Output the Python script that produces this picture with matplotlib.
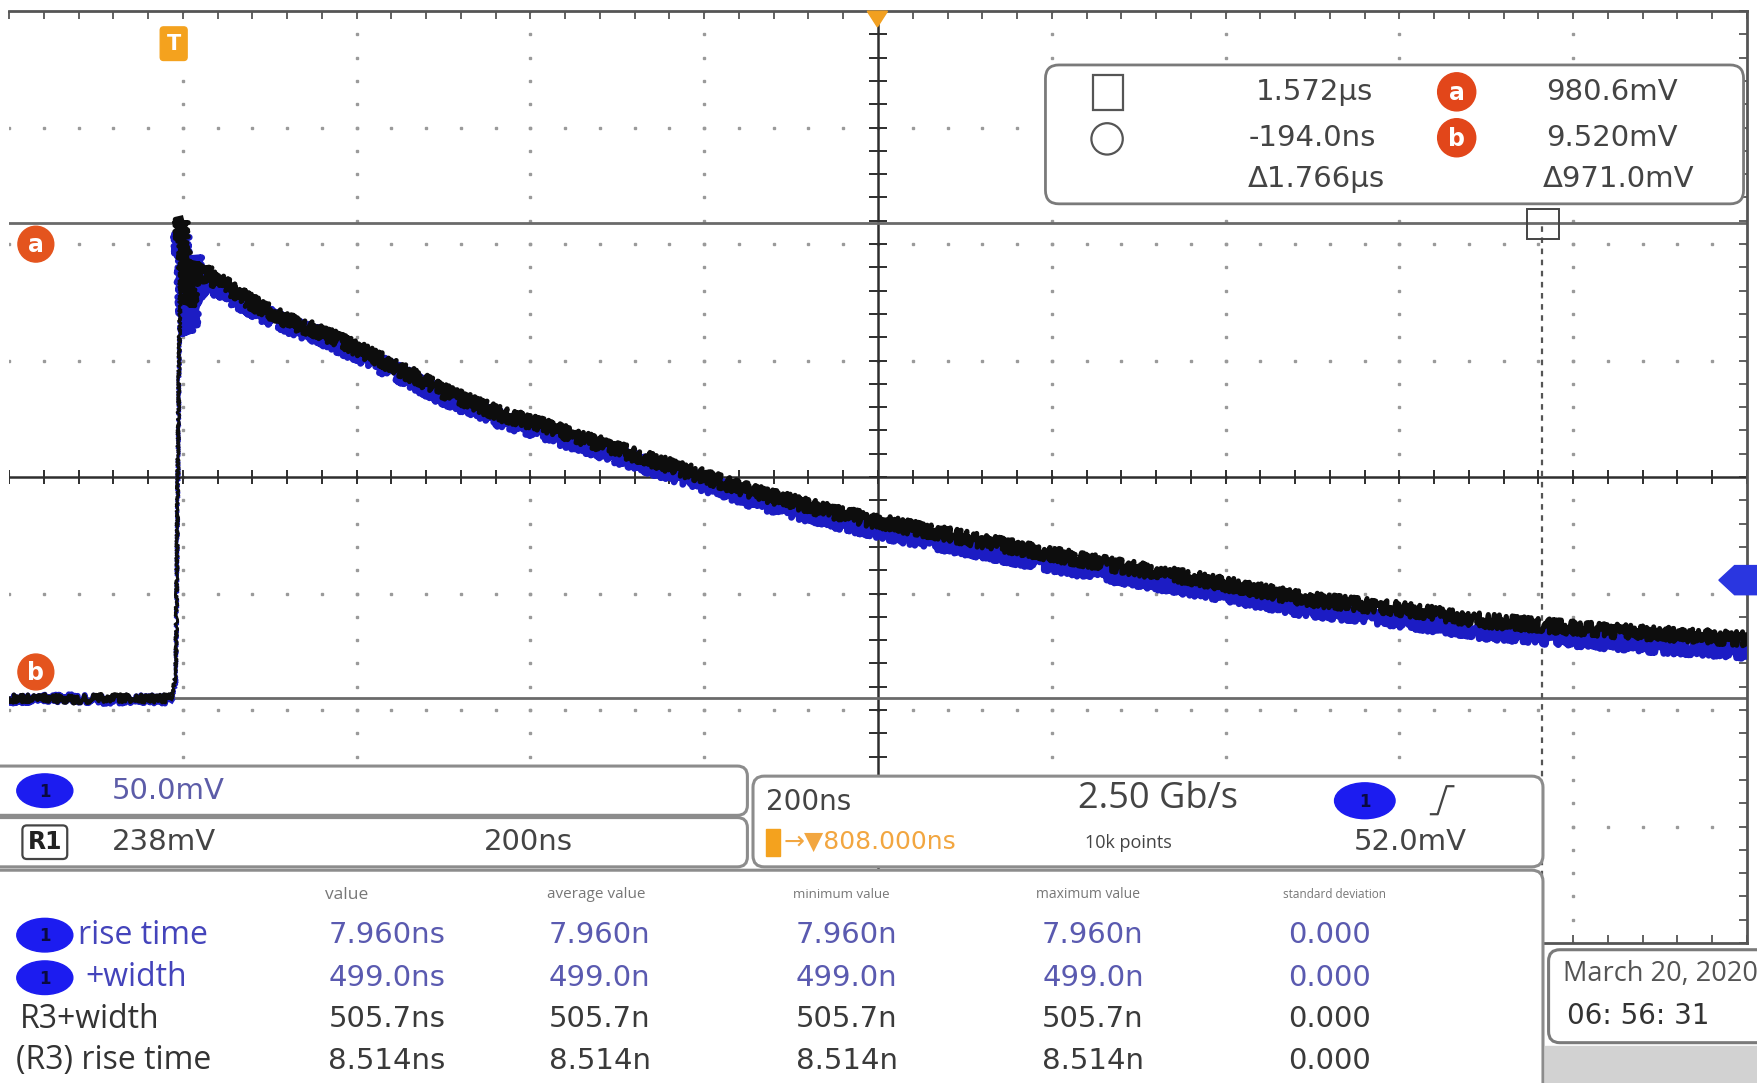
import numpy as np
import matplotlib
matplotlib.use("Agg")
import matplotlib.pyplot as plt
from matplotlib.patches import FancyBboxPatch, Circle, Rectangle, Polygon, Ellipse

W, H, DPI = 1757, 1083, 100

# ---------------- data ----------------
t_ns = [-192, -160, -120, -80, -40, -5, 0, 3, 6, 8, 10, 12, 15, 18, 21, 24, 28, 33, 40, 48,
        60, 74, 95, 114, 140, 167, 208, 255, 307, 376, 408, 456, 529, 601, 666, 750, 808,
        875, 958, 1008, 1083, 1191, 1299, 1402, 1504, 1572, 1668, 1808]
ref_r1_mV = [8, 10, 6, 10, 8, 9, 60, 600, 990, 930, 900, 870, 810, 840, 900, 860, 880, 890, 865, 862,
             850, 832, 810, 792, 773, 757, 724, 684, 637, 588, 574, 547, 506, 466, 430, 392, 370,
             348, 320, 303, 280, 248, 212, 193, 168, 158, 145, 130]
ch1_mV = [6, 8, 9, 5, 7, 6, 40, 560, 960, 900, 860, 800, 755, 800, 910, 830, 850, 870, 845, 850,
          836, 820, 800, 782, 764, 748, 714, 674, 626, 577, 562, 534, 493, 452, 414, 376, 352,
          329, 301, 284, 260, 228, 192, 172, 146, 136, 122, 106]

time_div_ns = 200
volt_div_mV = 238
center_t_ns = 808          # trigger -> screen centre
center_v_mV = 461
cursor_t_ns = [1572, -194]
cursor_v_mV = [980.6, 9.52]

cursor_time_text = ["1.572\u00b5s", "-194.0ns", "\u03941.766\u00b5s"]
cursor_volt_text = ["980.6mV", "9.520mV", "\u0394971.0mV"]

meas_headers = ["value", "average value", "minimum value", "maximum value", "standard deviation"]
meas_names = ["rise time", "+width", "R3+width", "(R3) rise time"]
meas_value = ["7.960ns", "499.0ns", "505.7ns", "8.514ns"]
meas_avg = ["7.960n", "499.0n", "505.7n", "8.514n"]
meas_min = ["7.960n", "499.0n", "505.7n", "8.514n"]
meas_max = ["7.960n", "499.0n", "505.7n", "8.514n"]
meas_std = ["0.000", "0.000", "0.000", "0.000"]

VAL = "DejaVu Sans"
LAB = "Open Sans"

# ---------------- figure ----------------
fig = plt.figure(figsize=(W / DPI, H / DPI), dpi=DPI)
fig.patch.set_facecolor("white")

ax = fig.add_axes([9 / W, 1 - 943 / H, 1738 / W, 932 / H])
x0, x1 = center_t_ns - 5 * time_div_ns, center_t_ns + 5 * time_div_ns
y0, y1 = center_v_mV - 4 * volt_div_mV, center_v_mV + 4 * volt_div_mV
ax.set_xlim(x0, x1)
ax.set_ylim(y0, y1)
ax.set_facecolor("white")

# graticule: dotted major lines
gc = "#9a9a9a"
xmaj = [x0 + k * time_div_ns for k in range(1, 10) if k != 5]
ymaj = [y0 + k * volt_div_mV for k in range(1, 8) if k != 4]
yminor = np.arange(y0, y1 + 1e-6, volt_div_mV / 5)
xminor = np.arange(x0, x1 + 1e-6, time_div_ns / 5)
for xv in xmaj:
    ax.plot([xv] * len(yminor), yminor, ls="none", marker="s", ms=1.8, color=gc, zorder=1)
for yv in ymaj:
    ax.plot(xminor, [yv] * len(xminor), ls="none", marker="s", ms=1.8, color=gc, zorder=1)

# centre cross with ticks
ax.axhline(center_v_mV, color="#2e2e2e", lw=1.8, zorder=2)
ax.axvline(center_t_ns, color="#2e2e2e", lw=1.8, zorder=2)
ax.plot(xminor, [center_v_mV] * len(xminor), ls="none", marker="|", ms=10, mew=1.4, color="#2e2e2e", zorder=2)
ax.plot([center_t_ns] * len(yminor), yminor, ls="none", marker="_", ms=13, mew=1.4, color="#2e2e2e", zorder=2)

# cursors
for v in cursor_v_mV:
    ax.axhline(v, color="#6a6a6a", lw=2.0, zorder=2)
ax.plot([cursor_t_ns[0], cursor_t_ns[0]], [y0, cursor_v_mV[0]], color="#555555", lw=1.6,
        dashes=(2.5, 2.5), zorder=2)

# frame and border ticks
for s in ["top", "right", "bottom"]:
    ax.spines[s].set_color("#555555")
    ax.spines[s].set_linewidth(2.0)
ax.spines["left"].set_visible(False)
ax.set_xticks(np.arange(x0, x1 + 1, time_div_ns))
ax.set_xticks(xminor, minor=True)
ax.set_yticks(np.arange(y0, y1 + 1, volt_div_mV))
ax.set_yticks(yminor, minor=True)
ax.tick_params(axis="x", which="both", direction="in", top=True, bottom=True,
               labelbottom=False, labeltop=False, color="#555555", width=1.3, length=6)
ax.tick_params(axis="y", which="both", direction="in", left=False, right=True,
               labelleft=False, labelright=False, color="#555555", width=1.3, length=6)

# traces: thick noisy-looking bands, thin on the rising edge
tt = np.asarray(t_ns)
i_r0 = int(np.searchsorted(tt, -5))
i_r1 = int(np.searchsorted(tt, 6)) + 1
trace_styles = [(ch1_mV, "#1c1cc4", 3, 4.8, 8), (ref_r1_mV, "#0d0d0d", 4, 3.6, 7)]
for vals, col, z, lw_main, sk_main in trace_styles:
    vv = np.asarray(vals)
    for sl, lw, sk in [(slice(0, i_r0 + 1), lw_main - 0.6, 4), (slice(i_r0, i_r1), 1.8, 1.5),
                       (slice(i_r1 - 1, len(tt)), lw_main, sk_main)]:
        ln, = ax.plot(tt[sl], vv[sl], color=col, lw=lw, zorder=z, solid_joinstyle="round")
        ln.set_sketch_params(scale=sk, length=2.5, randomness=2.5)

# ---------------- overlay (screen UI) ----------------
ov = fig.add_axes([0, 0, 1, 1], zorder=5)
ov.set_xlim(0, 1568)
ov.set_ylim(967, 0)
ov.axis("off")
ov.patch.set_alpha(0)


def rbox(xa, ya, xb, yb, r=9, ec="#8c8c8c", lw=2.2, fc="white", z=6):
    p = FancyBboxPatch((xa + r, ya + r), xb - xa - 2 * r, yb - ya - 2 * r,
                       boxstyle=f"round,pad={r}", ec=ec, fc=fc, lw=lw, zorder=z)
    ov.add_patch(p)


def vtext(x, y, s, size, color, ha="left"):
    ov.text(x, y, s, ha=ha, va="center", fontsize=size, color=color, family=VAL, zorder=8)


def pill(x, y, w=50, h=30):
    ov.add_patch(Ellipse((x, y), w, h, color="#1c1cf0", zorder=8))
    ov.text(x, y + 1, "1", ha="center", va="center", fontsize=12, color="#0a0a40",
            family="DejaVu Sans", fontweight="bold", zorder=9)


# trigger "T" marker and trigger point triangle
ov.add_patch(FancyBboxPatch((146, 27), 18, 24, boxstyle="round,pad=3", fc="#f4a21e", ec="#f4a21e", zorder=7))
ov.text(155, 39, "T", ha="center", va="center", fontsize=15, color="white", fontweight="bold",
        family="DejaVu Sans", zorder=8)
ov.add_patch(Polygon([[774, 10], [792, 10], [783, 24]], closed=True, color="#f2a020", zorder=7))

# cursor labels a / b
for (cy, letter) in [(218, "a"), (600, "b")]:
    ov.add_patch(Circle((32, cy), 16, color="#e4541e", zorder=2.5))
    ov.text(32, cy + 1, letter, ha="center", va="center", fontsize=17, color="white",
            fontweight="bold", family="DejaVu Sans", zorder=2.6)

# cursor handle square
ov.add_patch(Rectangle((1363, 187), 28, 26, fc="none", ec="#444444", lw=1.4, zorder=7))

# channel 1 position marker
ov.add_patch(Polygon([[1534, 518], [1548, 505], [1568, 505], [1568, 531], [1548, 531]],
                     closed=True, color="#2a36e0", zorder=7))

# cursor read-out box
rbox(933, 58, 1556, 182, r=12, ec="#7a7a7a", lw=2.0)
ov.add_patch(Rectangle((975, 67), 27, 31, fc="none", ec="#555555", lw=1.6, zorder=8))
ov.add_patch(Circle((988, 124), 14, fc="none", ec="#555555", lw=1.6, zorder=8))
tc = "#444444"
for i, (yy, txt) in enumerate(zip([82, 123, 160], cursor_time_text)):
    vtext([1225, 1228, 1236][i], yy, txt, 21, tc, ha="right")
for i, (yy, txt) in enumerate(zip([82, 123, 160], cursor_volt_text)):
    vtext([1497, 1497, 1512][i], yy, txt, 21, tc, ha="right")
for (cy, letter) in [(82, "a"), (123, "b")]:
    ov.add_patch(Circle((1300, cy), 17, color="#e2461a", zorder=8))
    ov.text(1300, cy + 1, letter, ha="center", va="center", fontsize=17, color="white",
            fontweight="bold", family="DejaVu Sans", zorder=9)

# channel panel
rbox(-20, 684, 667, 728, r=9)
rbox(-20, 730, 667, 774, r=9)
pill(40, 706)
vtext(100, 706, "50.0mV", 21, "#5c5ca8")
ov.add_patch(FancyBboxPatch((24, 741), 32, 22, boxstyle="round,pad=4", fc="white", ec="#444444", lw=1.6, zorder=7))
ov.text(40, 752, "R1", ha="center", va="center", fontsize=17, color="#222222", family="DejaVu Sans",
        fontweight="bold", zorder=8)
vtext(100, 752, "238mV", 21, "#444444")
vtext(432, 752, "200ns", 21, "#444444")

# timebase / trigger panel
rbox(672, 693, 1377, 774, r=10)
vtext(684, 716, "200ns", 20, "#444444")
ov.add_patch(Rectangle((684, 740), 12, 24, color="#f4a21e", zorder=8))
ov.text(699, 752, "\u2192\u25bc808.000ns", ha="left", va="center", fontsize=18, color="#f2a640",
        family="DejaVu Sans", zorder=8)
ov.text(962, 713, "2.50 Gb/s", ha="left", va="center", fontsize=26, color="#444444", family=LAB, zorder=8)
ov.text(968, 753, "10k points", ha="left", va="center", fontsize=13, color="#444444", family=LAB, zorder=8)
pill(1218, 715, w=54, h=32)
ov.plot([1277, 1283, 1291, 1297], [727, 727, 702, 702], color="#444444", lw=1.6, zorder=8)
vtext(1208, 752, "52.0mV", 21, "#444444")

# measurement panel
rbox(-20, 777, 1377, 1000, r=10)
hx = [290, 488, 708, 925, 1145]
hs = [12.5, 11, 9.5, 10, 8.5]
for x, h, s in zip(hx, meas_headers, hs):
    ov.text(x, 799, h, ha="left", va="center", fontsize=s, color="#777777", family=LAB, zorder=8)
rows_y = [835, 873, 910, 947]
pill(40, 835)
pill(40, 873)
name_x = [70, 76, 18, 14]
for i, (y, nm) in enumerate(zip(rows_y, meas_names)):
    col = "#4444bb" if i < 2 else "#333333"
    ov.text(name_x[i], y, nm, ha="left", va="center", fontsize=23, color=col, family=LAB, zorder=8)
colx = [293, 490, 710, 930, 1150]
for i, y in enumerate(rows_y):
    col = "#5a5ab0" if i < 2 else "#3a3a3a"
    for x, arr in zip(colx, [meas_value, meas_avg, meas_min, meas_max, meas_std]):
        vtext(x, y, arr[i], 21, col)

# date panel
ov.add_patch(Rectangle((1379, 934), 200, 40, color="#d2d2d2", zorder=6))
rbox(1382, 848, 1590, 931, r=10, ec="#7a7a7a")
ov.text(1395, 870, "March 20, 2020", ha="left", va="center", fontsize=19.5, color="#555555", family=LAB, zorder=8)
vtext(1398, 907, "06: 56: 31", 20, "#333333")

fig.savefig("out.png", dpi=DPI, facecolor="white")
